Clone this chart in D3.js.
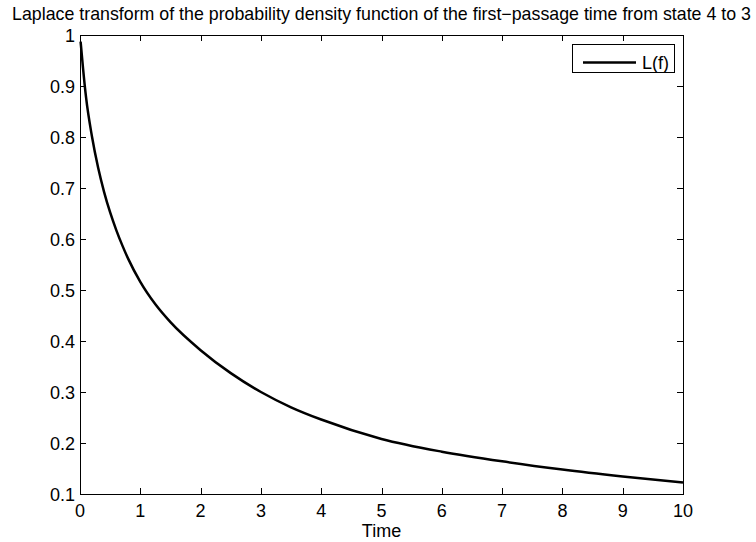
<!DOCTYPE html>
<html>
<head>
<meta charset="utf-8">
<script src="https://cdn.jsdelivr.net/npm/d3@7"></script>
<style>
  html, body { margin: 0; padding: 0; background: #fff; }
  svg { display: block; font-family: "Liberation Sans", Arial, Helvetica, sans-serif; }
</style>
</head>
<body>
<svg id="chart" width="756" height="542"></svg>
<script>
// Laplace transform L(f) sampled over time
const times = [0.01, 0.05, 0.1, 0.2, 0.3, 0.4, 0.5, 0.6, 0.7, 0.8, 1, 1.25, 1.5, 2, 2.5, 3, 3.5, 4, 5, 6, 7, 8, 9, 10];
const laplaceValues = [0.987, 0.935, 0.878, 0.80, 0.74, 0.692, 0.652, 0.618, 0.588, 0.561, 0.516, 0.472, 0.437, 0.382, 0.337, 0.30, 0.27, 0.246, 0.208, 0.183, 0.164, 0.148, 0.1345, 0.1225];
const xTicks = [0, 1, 2, 3, 4, 5, 6, 7, 8, 9, 10];
const yTicks = [0.1, 0.2, 0.3, 0.4, 0.5, 0.6, 0.7, 0.8, 0.9, 1];
const titleText = "Laplace transform of the probability density function of the first\u2212passage time from state 4 to 3";
const xLabel = "Time";
const seriesName = "L(f)";

const svg = d3.select("#chart");
const plotLeft = 80, plotRight = 683, plotTop = 35, plotBottom = 494;

const x = d3.scaleLinear().domain([0, 10]).range([plotLeft, plotRight]);
const y = d3.scaleLinear().domain([0.1, 1]).range([plotBottom, plotTop]);

const fontSize = 18;

// Curve
const data = times.map((t, i) => ({ t, v: laplaceValues[i] }));
svg.append("path")
  .datum(data)
  .attr("fill", "none")
  .attr("stroke", "#000")
  .attr("stroke-width", 2.5)
  .attr("d", d3.line().x(d => x(d.t)).y(d => y(d.v)).curve(d3.curveMonotoneX));

// Axes box with inward ticks on all four sides
const tickLen = 6;
const g = svg.append("g").attr("stroke", "#000").attr("stroke-width", 1).attr("fill", "none");
g.append("rect")
  .attr("x", plotLeft + 0.5).attr("y", plotTop + 0.5)
  .attr("width", plotRight - plotLeft).attr("height", plotBottom - plotTop);

xTicks.forEach(t => {
  const px = Math.round(x(t)) + 0.5;
  g.append("line").attr("x1", px).attr("x2", px).attr("y1", plotBottom).attr("y2", plotBottom - tickLen);
  g.append("line").attr("x1", px).attr("x2", px).attr("y1", plotTop).attr("y2", plotTop + tickLen);
});
yTicks.forEach(v => {
  const py = Math.round(y(v)) + 0.5;
  g.append("line").attr("x1", plotLeft).attr("x2", plotLeft + tickLen).attr("y1", py).attr("y2", py);
  g.append("line").attr("x1", plotRight).attr("x2", plotRight - tickLen).attr("y1", py).attr("y2", py);
});

// Tick labels
svg.append("g").selectAll("text").data(xTicks).join("text")
  .attr("x", d => x(d))
  .attr("y", 517)
  .attr("text-anchor", "middle")
  .attr("font-size", fontSize)
  .attr("fill", "#000")
  .text(d => d3.format("")(d));

svg.append("g").selectAll("text").data(yTicks).join("text")
  .attr("x", plotLeft - 5)
  .attr("y", d => y(d) + 6.5)
  .attr("text-anchor", "end")
  .attr("font-size", fontSize)
  .attr("fill", "#000")
  .text(d => d === 1 ? "1" : d3.format(".1f")(d));

// Axis label
svg.append("text")
  .attr("x", (plotLeft + plotRight) / 2)
  .attr("y", 537)
  .attr("text-anchor", "middle")
  .attr("font-size", fontSize)
  .attr("fill", "#000")
  .text(xLabel);

// Title
svg.append("text")
  .attr("x", (plotLeft + plotRight) / 2)
  .attr("y", 20)
  .attr("text-anchor", "middle")
  .attr("font-size", 17.8)
  .attr("fill", "#000")
  .text(titleText);

// Legend
const lg = svg.append("g");
lg.append("rect")
  .attr("x", 572.5).attr("y", 44.5)
  .attr("width", 102).attr("height", 28)
  .attr("fill", "#fff").attr("stroke", "#000").attr("stroke-width", 1);
lg.append("line")
  .attr("x1", 583).attr("x2", 636).attr("y1", 62.5).attr("y2", 62.5)
  .attr("stroke", "#000").attr("stroke-width", 2.5);
lg.append("text")
  .attr("x", 642).attr("y", 69)
  .attr("font-size", fontSize)
  .attr("fill", "#000")
  .text(seriesName);
</script>
</body>
</html>
